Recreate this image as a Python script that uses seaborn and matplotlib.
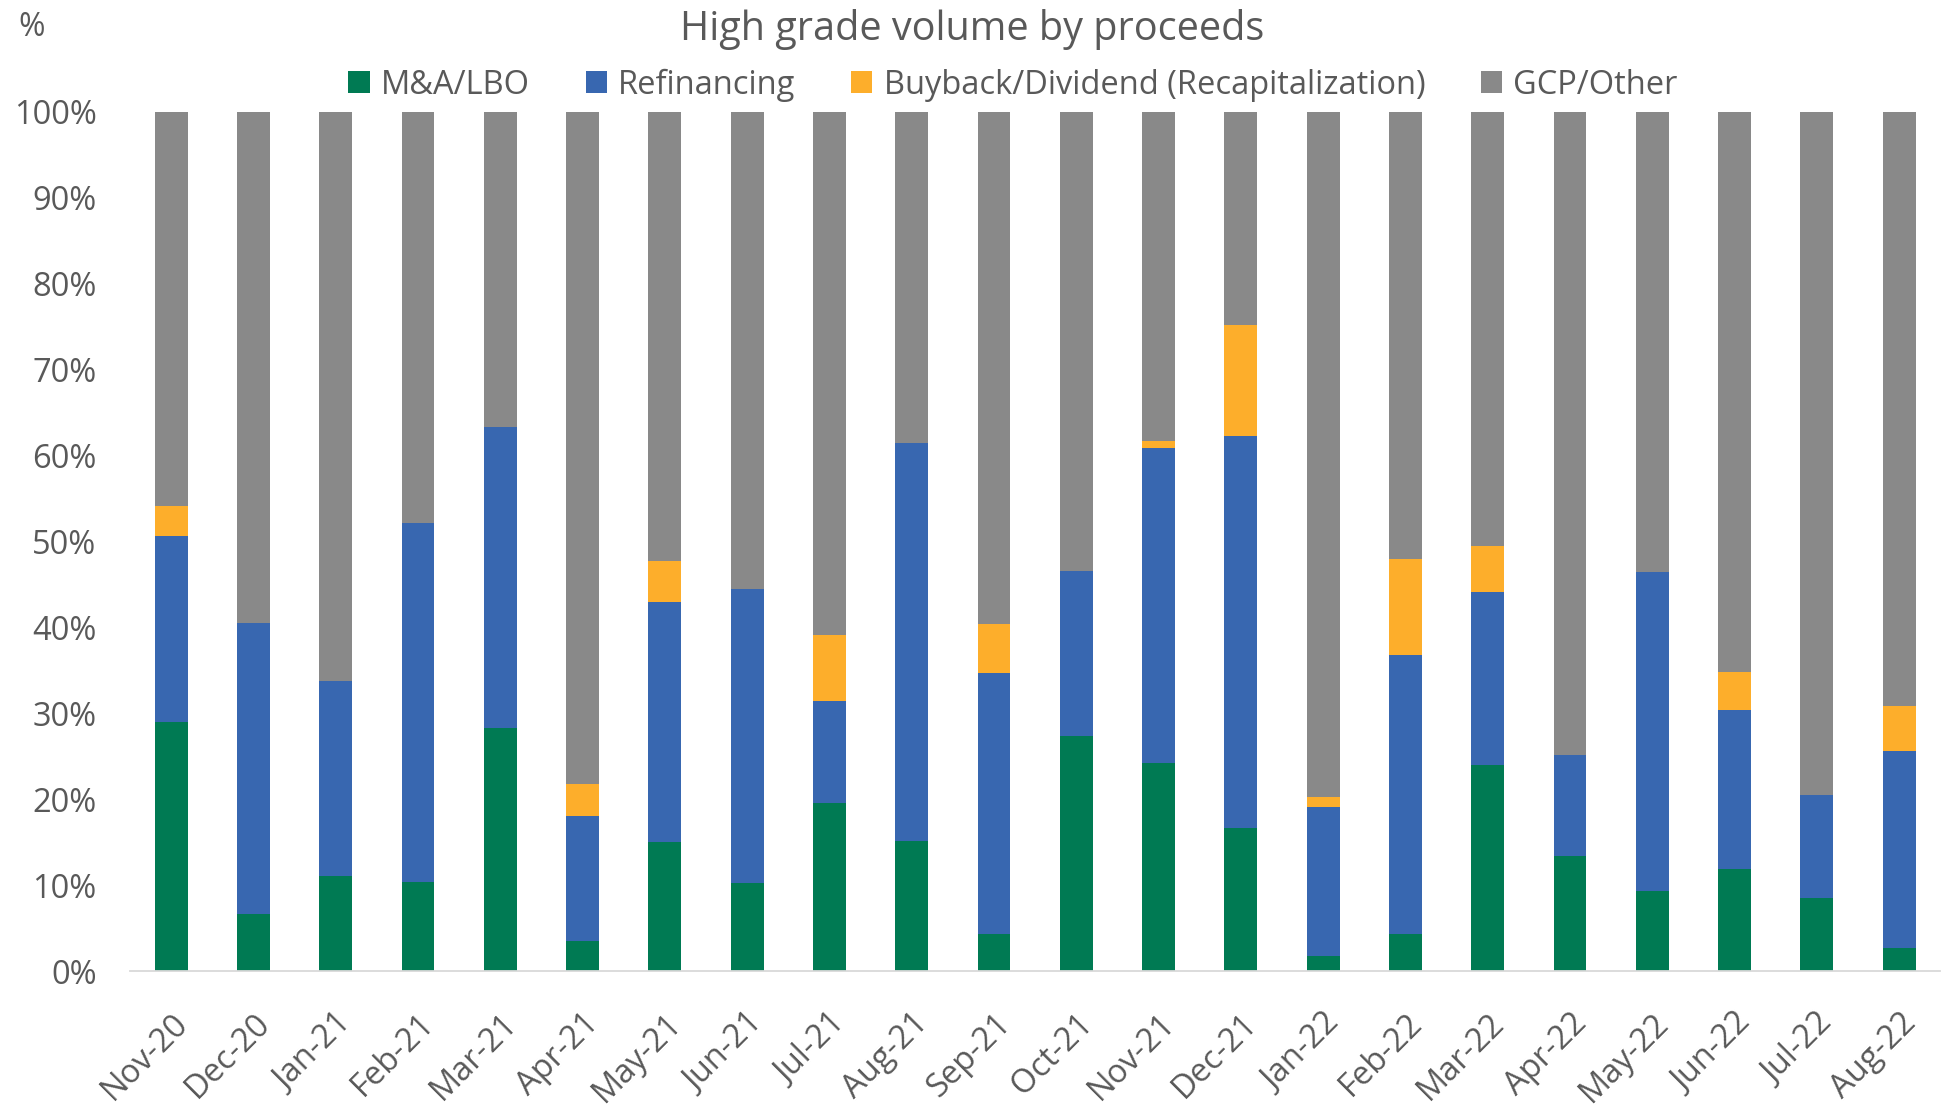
import numpy as np
import pandas as pd
import matplotlib
matplotlib.use("Agg")
import matplotlib.pyplot as plt
import seaborn as sns
from matplotlib.patches import Patch
from matplotlib.ticker import FixedLocator

months = ["Nov-20", "Dec-20", "Jan-21", "Feb-21", "Mar-21", "Apr-21", "May-21", "Jun-21",
          "Jul-21", "Aug-21", "Sep-21", "Oct-21", "Nov-21", "Dec-21", "Jan-22", "Feb-22",
          "Mar-22", "Apr-22", "May-22", "Jun-22", "Jul-22", "Aug-22"]
ma_lbo = [29.0, 6.6, 11.1, 10.4, 28.3, 3.5, 15.0, 10.3, 19.5, 15.1, 4.3,
          27.3, 24.2, 16.6, 1.8, 4.3, 24.0, 13.4, 9.3, 11.9, 8.5, 2.7]
refinancing = [21.6, 33.9, 22.6, 41.7, 35.0, 14.5, 27.9, 34.2, 11.9, 46.4, 30.4,
               19.2, 36.7, 45.7, 17.3, 32.5, 20.1, 11.8, 37.1, 18.5, 12.0, 22.9]
buyback = [3.5, 0.0, 0.0, 0.0, 0.0, 3.8, 4.8, 0.0, 7.7, 0.0, 5.7,
           0.0, 0.8, 12.9, 1.1, 11.1, 5.4, 0.0, 0.0, 4.4, 0.0, 5.3]
gcp_other = [45.9, 59.5, 66.3, 47.9, 36.7, 78.2, 52.3, 55.5, 60.9, 38.5, 59.6,
             53.5, 38.3, 24.8, 79.8, 52.1, 50.5, 74.8, 53.6, 65.2, 79.5, 69.1]
series_names = ["M&A/LBO", "Refinancing", "Buyback/Dividend (Recapitalization)", "GCP/Other"]
colors = ["#007A53", "#3867B0", "#FDAE2B", "#898989"]

sns.set_theme(style="white")
plt.rcParams["font.family"] = ["Open Sans", "DejaVu Sans"]
text_color = "#595959"

df = pd.DataFrame({"month": months, "g": ma_lbo, "b": refinancing, "o": buyback, "x": gcp_other})
layers = [df["g"], df["b"], df["o"], df["x"]]
cum = np.cumsum(np.vstack(layers), axis=0)

fig = plt.figure(figsize=(19.52, 11.06), dpi=100)
ax = fig.add_axes([0.0666, 0.122, 0.9274, 0.777])

# draw from top layer down so each lower segment overlays
for i in range(3, -1, -1):
    sns.barplot(x=df["month"], y=cum[i], order=months, color=colors[i],
                width=0.4, saturation=1, ax=ax, linewidth=0)

ax.set_ylim(0, 100)
ax.set_xlim(-0.5, len(months) - 0.5)
ax.set_yticks(np.arange(0, 101, 10))
ax.set_yticklabels([f"{v}%" for v in range(0, 101, 10)])
ax.set_xlabel("")
ax.set_ylabel("")
ax.tick_params(axis="y", length=0, labelsize=23.5, colors=text_color, pad=24)
ax.tick_params(axis="x", which="major", length=0, labelsize=23.5, colors=text_color, pad=26)
plt.setp(ax.get_xticklabels(), rotation=45, ha="right", rotation_mode="anchor")
ax.xaxis.set_minor_locator(FixedLocator(np.arange(-0.5, len(months), 1.0)))
ax.tick_params(axis="x", which="minor", length=12, width=1.2, color="#d9d9d9")
for s in ["top", "right", "left"]:
    ax.spines[s].set_visible(False)
ax.spines["bottom"].set_color("#d9d9d9")
ax.spines["bottom"].set_linewidth(1.3)
ax.grid(False)

fig.text(0.498, 0.973, "High grade volume by proceeds", ha="center", va="center",
         fontsize=28.5, color=text_color)
fig.text(0.016, 0.975, "%", ha="center", va="center", fontsize=23, color=text_color)

handles = [Patch(facecolor=c, edgecolor="none") for c in colors]
fig.legend(handles, series_names, loc="center", bbox_to_anchor=(0.519, 0.923), ncol=4,
           frameon=False, fontsize=23.5, labelcolor=text_color, handlelength=0.65,
           handleheight=0.65, handletextpad=0.35, columnspacing=1.7)

fig.savefig("out.png", dpi=100)
